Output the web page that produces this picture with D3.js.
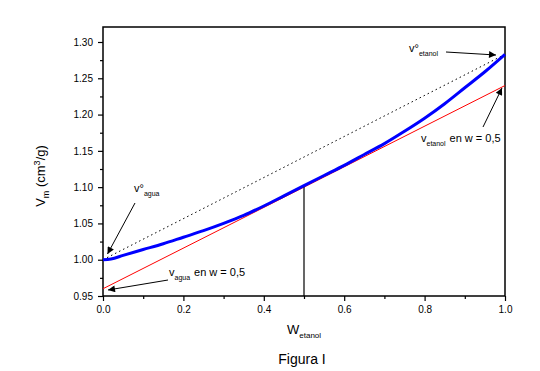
<!DOCTYPE html>
<html><head><meta charset="utf-8">
<script src="https://cdn.jsdelivr.net/npm/d3@7"></script>
<style>body{margin:0;background:#fff}svg{display:block;font-family:"Liberation Sans",Arial,sans-serif}</style>
</head><body><svg id="c" width="540" height="371"></svg>
<script>
const wEtanol = [0.00,0.02,0.05,0.10,0.15,0.20,0.25,0.30,0.35,0.40,0.45,0.50,0.55,0.60,0.65,0.70,0.75,0.80,0.85,0.90,0.95,1.00];
const vm      = [1.000,1.001,1.006,1.014,1.022,1.031,1.040,1.050,1.061,1.074,1.088,1.102,1.116,1.130,1.145,1.160,1.177,1.195,1.215,1.237,1.259,1.283];
const idealLine = [[0,1.000],[1,1.283]];
const tangentLine = [[0,0.960],[1,1.240]];
const tangentPoint = [0.5,1.102];
const xTicks = [0,0.2,0.4,0.6,0.8,1.0];
const yTicks = [0.95,1.00,1.05,1.10,1.15,1.20,1.25,1.30];

const svg = d3.select("#c");
const x = d3.scaleLinear().domain([0,1]).range([103,505]);
const y = d3.scaleLinear().domain([0.95,1.30]).range([296,42]);
const yTop = y.invert(27);

svg.append("defs").append("marker").attr("id","ah").attr("viewBox","0 0 10 10")
  .attr("refX",10).attr("refY",5).attr("markerWidth",9).attr("markerHeight",7)
  .attr("markerUnits","userSpaceOnUse").attr("orient","auto")
  .append("path").attr("d","M0,0L10,5L0,10z").attr("fill","#000");

// frame
svg.append("rect").attr("x",x(0)).attr("y",y(yTop)).attr("width",x(1)-x(0)).attr("height",y(0.95)-y(yTop))
  .attr("fill","none").attr("stroke","#000").attr("stroke-width",1.5);

// axes
svg.append("g").attr("transform",`translate(0,${y(0.95)})`)
  .call(d3.axisBottom(x).tickValues(xTicks).tickFormat(d3.format(".1f")).tickSize(5).tickPadding(5));
svg.append("g").attr("transform",`translate(0,${y(0.95)})`)
  .call(d3.axisBottom(x).tickValues(d3.range(0.1,1,0.2)).tickFormat("").tickSize(3));
svg.append("g").attr("transform",`translate(${x(0)},0)`)
  .call(d3.axisLeft(y).tickValues(yTicks).tickFormat(d3.format(".2f")).tickSize(5).tickPadding(5));
svg.append("g").attr("transform",`translate(${x(0)},0)`)
  .call(d3.axisLeft(y).tickValues(d3.range(0.975,1.30,0.05)).tickFormat("").tickSize(3));
svg.selectAll(".domain").remove();
svg.selectAll(".tick line").attr("stroke","#000").attr("stroke-width",1.2);
svg.selectAll(".tick text").attr("font-size",10).attr("fill","#000").attr("font-family","Liberation Sans, Arial, sans-serif");

const line = d3.line().x(d=>x(d[0])).y(d=>y(d[1]));
// dotted ideal line
svg.append("path").attr("d",line(idealLine)).attr("stroke","#000").attr("stroke-width",1)
  .attr("stroke-dasharray","1.5,3").attr("fill","none");
// red tangent
svg.append("path").attr("d",line(tangentLine)).attr("stroke","#ff0000").attr("stroke-width",1).attr("fill","none");
// vertical line
svg.append("line").attr("x1",x(tangentPoint[0])).attr("x2",x(tangentPoint[0]))
  .attr("y1",y(0.95)).attr("y2",y(tangentPoint[1])).attr("stroke","#000").attr("stroke-width",1.2);
// blue curve
svg.append("path").attr("d",d3.line().curve(d3.curveMonotoneX).x(d=>x(d)).y((d,i)=>y(vm[i]))(wEtanol))
  .attr("stroke","#0000ff").attr("stroke-width",3).attr("fill","none");

// annotations
function label(px,py,main,sub,rest){
  const t = svg.append("text").attr("x",px).attr("y",py).attr("font-size",11).attr("fill","#000");
  t.append("tspan").text(main);
  t.append("tspan").attr("dy",4).attr("font-size",7).text(sub);
  if(rest) t.append("tspan").attr("dy",-4).attr("dx",4).attr("font-size",11).text(rest);
}
function arrow(x1,y1,x2,y2){
  svg.append("line").attr("x1",x1).attr("y1",y1).attr("x2",x2).attr("y2",y2)
    .attr("stroke","#000").attr("stroke-width",1).attr("marker-end","url(#ah)");
}
label(134,192,"v°","agua");
arrow(135,203,107.5,254);
label(409,52,"v°","etanol");
arrow(446,52,496,55);
label(421,142,"v","etanol","en w = 0,5");
arrow(483,127,502,88);
label(169,276,"v","agua","en w = 0,5");
arrow(168,280,108,290);

// axis titles
const yt = svg.append("text").attr("transform","translate(45,176) rotate(-90)").attr("text-anchor","middle")
  .attr("font-size",13).attr("fill","#000");
yt.append("tspan").text("V");
yt.append("tspan").attr("dy",4).attr("font-size",9).text("m");
yt.append("tspan").attr("dy",-4).text(" (cm");
yt.append("tspan").attr("dy",-5).attr("font-size",9).text("3");
yt.append("tspan").attr("dy",5).text("/g)");

const xt = svg.append("text").attr("x",287).attr("y",334).attr("font-size",13).attr("fill","#000");
xt.append("tspan").text("W");
xt.append("tspan").attr("dy",4).attr("font-size",8).text("etanol");

svg.append("text").attr("x",302).attr("y",364).attr("text-anchor","middle").attr("font-size",14)
  .attr("fill","#000").text("Figura I");
</script></body></html>
